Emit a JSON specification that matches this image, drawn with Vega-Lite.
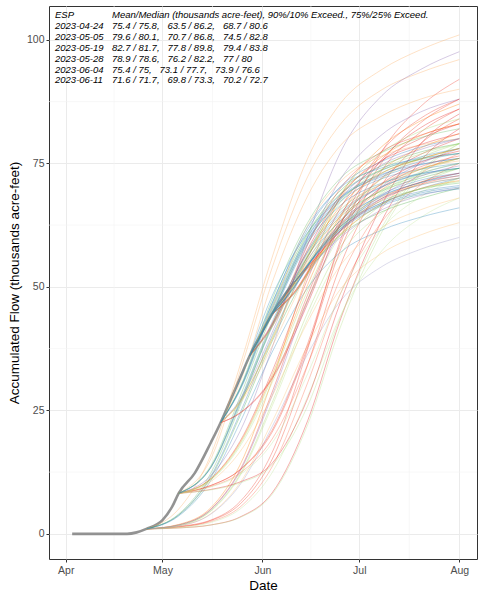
{
"$schema": "https://vega.github.io/schema/vega-lite/v6.json",
"width": 428, "height": 553,
"autosize": "none",
"padding": {"left": 49, "top": 6, "right": 1, "bottom": 33},
"config": {
  "font": "Liberation Sans",
  "view": {"stroke": "#333333", "strokeWidth": 1},
  "axis": {"domain": false, "tickColor": "#333333", "tickSize": 3, "labelColor": "#4d4d4d", "labelFontSize": 10.5, "titleFontWeight": "normal", "titleFontSize": 13.5, "titleColor": "#000000", "gridColor": "#ebebeb", "gridWidth": 1, "labelPadding": 2}
},
"datasets": {
 "mx": [{"d":"2023-04-16"},{"d":"2023-05-16T12:00:00Z"},{"d":"2023-06-16"},{"d":"2023-07-16T12:00:00Z"}],
 "my": [{"v":12.5},{"v":37.5},{"v":62.5},{"v":87.5}],
 "notes": [
  {"r":0,"lab":"ESP","txt":"Mean/Median (thousands acre-feet), 90%/10% Exceed., 75%/25% Exceed."},
  {"r":1,"lab":"2023-04-24","txt":"75.4 / 75.8,\u00a0\u00a0 63.5 / 86.2,\u00a0\u00a0 68.7 / 80.6"},
  {"r":2,"lab":"2023-05-05","txt":"79.6 / 80.1,\u00a0\u00a0 70.7 / 86.8,\u00a0\u00a0 74.5 / 82.8"},
  {"r":3,"lab":"2023-05-19","txt":"82.7 / 81.7,\u00a0\u00a0 77.8 / 89.8,\u00a0\u00a0 79.4 / 83.8"},
  {"r":4,"lab":"2023-05-28","txt":"78.9 / 78.6,\u00a0\u00a0 76.2 / 82.2,\u00a0\u00a0 77 / 80"},
  {"r":5,"lab":"2023-06-04","txt":"75.4 / 75,\u00a0\u00a0 73.1 / 77.7,\u00a0\u00a0 73.9 / 76.6"},
  {"r":6,"lab":"2023-06-11","txt":"71.6 / 71.7,\u00a0\u00a0 69.8 / 73.3,\u00a0\u00a0 70.2 / 72.7"}
 ],
 "obs": [
  {"d":"2023-04-03","v":0},{"d":"2023-04-10","v":0},{"d":"2023-04-20","v":0},{"d":"2023-04-23","v":0.3},{"d":"2023-04-26","v":1},{"d":"2023-05-01","v":2.8},{"d":"2023-05-04","v":5.5},{"d":"2023-05-06","v":8.2},{"d":"2023-05-11","v":12.3},{"d":"2023-05-16","v":18.5},{"d":"2023-05-19","v":22.5},{"d":"2023-05-22","v":27},{"d":"2023-05-25","v":31.5},{"d":"2023-05-28","v":36},{"d":"2023-06-01","v":41},{"d":"2023-06-04","v":44.5},{"d":"2023-06-08","v":48.5},{"d":"2023-06-11","v":51}
 ],
 "tr": [
  {"f":"2023-04-24","yr":"1993","d":"2023-04-26","v":1},{"f":"2023-04-24","yr":"1993","d":"2023-05-06","v":1.2},{"f":"2023-04-24","yr":"1993","d":"2023-05-16","v":1.8},{"f":"2023-04-24","yr":"1993","d":"2023-05-25","v":3.4},{"f":"2023-04-24","yr":"1993","d":"2023-06-04","v":8.3},{"f":"2023-04-24","yr":"1993","d":"2023-06-15","v":22.9},{"f":"2023-04-24","yr":"1993","d":"2023-06-25","v":43.1},{"f":"2023-04-24","yr":"1993","d":"2023-07-08","v":63.4},{"f":"2023-04-24","yr":"1993","d":"2023-07-20","v":75.5},{"f":"2023-04-24","yr":"1993","d":"2023-08-01","v":82},
  {"f":"2023-04-24","yr":"1995","d":"2023-04-26","v":1},{"f":"2023-04-24","yr":"1995","d":"2023-05-06","v":1.5},{"f":"2023-04-24","yr":"1995","d":"2023-05-16","v":2.8},{"f":"2023-04-24","yr":"1995","d":"2023-05-25","v":6.5},{"f":"2023-04-24","yr":"1995","d":"2023-06-04","v":16.5},{"f":"2023-04-24","yr":"1995","d":"2023-06-15","v":37.4},{"f":"2023-04-24","yr":"1995","d":"2023-06-25","v":59.2},{"f":"2023-04-24","yr":"1995","d":"2023-07-08","v":77.4},{"f":"2023-04-24","yr":"1995","d":"2023-07-20","v":86.5},{"f":"2023-04-24","yr":"1995","d":"2023-08-01","v":92},
  {"f":"2023-04-24","yr":"1997","d":"2023-04-26","v":1},{"f":"2023-04-24","yr":"1997","d":"2023-05-06","v":1.4},{"f":"2023-04-24","yr":"1997","d":"2023-05-16","v":2.5},{"f":"2023-04-24","yr":"1997","d":"2023-05-25","v":5.4},{"f":"2023-04-24","yr":"1997","d":"2023-06-04","v":13.6},{"f":"2023-04-24","yr":"1997","d":"2023-06-15","v":30.6},{"f":"2023-04-24","yr":"1997","d":"2023-06-25","v":48.4},{"f":"2023-04-24","yr":"1997","d":"2023-07-08","v":63.2},{"f":"2023-04-24","yr":"1997","d":"2023-07-20","v":70.6},{"f":"2023-04-24","yr":"1997","d":"2023-08-01","v":75},
  {"f":"2023-04-24","yr":"1990","d":"2023-04-26","v":1},{"f":"2023-04-24","yr":"1990","d":"2023-05-06","v":1.4},{"f":"2023-04-24","yr":"1990","d":"2023-05-16","v":2.7},{"f":"2023-04-24","yr":"1990","d":"2023-05-25","v":6},{"f":"2023-04-24","yr":"1990","d":"2023-06-04","v":15.1},{"f":"2023-04-24","yr":"1990","d":"2023-06-15","v":34.2},{"f":"2023-04-24","yr":"1990","d":"2023-06-25","v":54.1},{"f":"2023-04-24","yr":"1990","d":"2023-07-08","v":70.7},{"f":"2023-04-24","yr":"1990","d":"2023-07-20","v":79},{"f":"2023-04-24","yr":"1990","d":"2023-08-01","v":84},
  {"f":"2023-04-24","yr":"1996","d":"2023-04-26","v":1},{"f":"2023-04-24","yr":"1996","d":"2023-05-06","v":1.8},{"f":"2023-04-24","yr":"1996","d":"2023-05-16","v":5},{"f":"2023-04-24","yr":"1996","d":"2023-05-25","v":12.9},{"f":"2023-04-24","yr":"1996","d":"2023-06-04","v":28.7},{"f":"2023-04-24","yr":"1996","d":"2023-06-15","v":48.4},{"f":"2023-04-24","yr":"1996","d":"2023-06-25","v":62.6},{"f":"2023-04-24","yr":"1996","d":"2023-07-08","v":72.1},{"f":"2023-04-24","yr":"1996","d":"2023-07-20","v":76.8},{"f":"2023-04-24","yr":"1996","d":"2023-08-01","v":80},
  {"f":"2023-04-24","yr":"1999","d":"2023-04-26","v":1},{"f":"2023-04-24","yr":"1999","d":"2023-05-06","v":5},{"f":"2023-04-24","yr":"1999","d":"2023-05-16","v":16},{"f":"2023-04-24","yr":"1999","d":"2023-05-25","v":34},{"f":"2023-04-24","yr":"1999","d":"2023-06-04","v":56},{"f":"2023-04-24","yr":"1999","d":"2023-06-15","v":76},{"f":"2023-04-24","yr":"1999","d":"2023-06-25","v":87},{"f":"2023-04-24","yr":"1999","d":"2023-07-08","v":94},{"f":"2023-04-24","yr":"1999","d":"2023-07-20","v":98},{"f":"2023-04-24","yr":"1999","d":"2023-08-01","v":101},
  {"f":"2023-04-24","yr":"2001","d":"2023-04-26","v":1},{"f":"2023-04-24","yr":"2001","d":"2023-05-06","v":1.6},{"f":"2023-04-24","yr":"2001","d":"2023-05-16","v":4.1},{"f":"2023-04-24","yr":"2001","d":"2023-05-25","v":10.3},{"f":"2023-04-24","yr":"2001","d":"2023-06-04","v":22.7},{"f":"2023-04-24","yr":"2001","d":"2023-06-15","v":38.2},{"f":"2023-04-24","yr":"2001","d":"2023-06-25","v":49.4},{"f":"2023-04-24","yr":"2001","d":"2023-07-08","v":56.8},{"f":"2023-04-24","yr":"2001","d":"2023-07-20","v":60.5},{"f":"2023-04-24","yr":"2001","d":"2023-08-01","v":63},
  {"f":"2023-04-24","yr":"2003","d":"2023-04-26","v":1},{"f":"2023-04-24","yr":"2003","d":"2023-05-06","v":1.9},{"f":"2023-04-24","yr":"2003","d":"2023-05-16","v":5.3},{"f":"2023-04-24","yr":"2003","d":"2023-05-25","v":13.9},{"f":"2023-04-24","yr":"2003","d":"2023-06-04","v":31.1},{"f":"2023-04-24","yr":"2003","d":"2023-06-15","v":52.6},{"f":"2023-04-24","yr":"2003","d":"2023-06-25","v":68.1},{"f":"2023-04-24","yr":"2003","d":"2023-07-08","v":78.4},{"f":"2023-04-24","yr":"2003","d":"2023-07-20","v":83.6},{"f":"2023-04-24","yr":"2003","d":"2023-08-01","v":87},
  {"f":"2023-04-24","yr":"2020","d":"2023-04-26","v":1},{"f":"2023-04-24","yr":"2020","d":"2023-05-06","v":1.2},{"f":"2023-04-24","yr":"2020","d":"2023-05-16","v":1.8},{"f":"2023-04-24","yr":"2020","d":"2023-05-25","v":3.3},{"f":"2023-04-24","yr":"2020","d":"2023-06-04","v":8},{"f":"2023-04-24","yr":"2020","d":"2023-06-15","v":22.1},{"f":"2023-04-24","yr":"2020","d":"2023-06-25","v":41.6},{"f":"2023-04-24","yr":"2020","d":"2023-07-08","v":61.1},{"f":"2023-04-24","yr":"2020","d":"2023-07-20","v":72.8},{"f":"2023-04-24","yr":"2020","d":"2023-08-01","v":79},
  {"f":"2023-04-24","yr":"1994","d":"2023-04-26","v":1},{"f":"2023-04-24","yr":"1994","d":"2023-05-06","v":1.3},{"f":"2023-04-24","yr":"1994","d":"2023-05-16","v":2.3},{"f":"2023-04-24","yr":"1994","d":"2023-05-25","v":5},{"f":"2023-04-24","yr":"1994","d":"2023-06-04","v":12.4},{"f":"2023-04-24","yr":"1994","d":"2023-06-15","v":27.8},{"f":"2023-04-24","yr":"1994","d":"2023-06-25","v":43.9},{"f":"2023-04-24","yr":"1994","d":"2023-07-08","v":57.3},{"f":"2023-04-24","yr":"1994","d":"2023-07-20","v":64},{"f":"2023-04-24","yr":"1994","d":"2023-08-01","v":68},
  {"f":"2023-04-24","yr":"1992","d":"2023-04-26","v":1},{"f":"2023-04-24","yr":"1992","d":"2023-05-06","v":1.7},{"f":"2023-04-24","yr":"1992","d":"2023-05-16","v":4.6},{"f":"2023-04-24","yr":"1992","d":"2023-05-25","v":11.7},{"f":"2023-04-24","yr":"1992","d":"2023-06-04","v":25.9},{"f":"2023-04-24","yr":"1992","d":"2023-06-15","v":43.6},{"f":"2023-04-24","yr":"1992","d":"2023-06-25","v":56.4},{"f":"2023-04-24","yr":"1992","d":"2023-07-08","v":64.9},{"f":"2023-04-24","yr":"1992","d":"2023-07-20","v":69.2},{"f":"2023-04-24","yr":"1992","d":"2023-08-01","v":72},
  {"f":"2023-04-24","yr":"2005","d":"2023-04-26","v":1},{"f":"2023-04-24","yr":"2005","d":"2023-05-06","v":4},{"f":"2023-04-24","yr":"2005","d":"2023-05-16","v":12.3},{"f":"2023-04-24","yr":"2005","d":"2023-05-25","v":25.8},{"f":"2023-04-24","yr":"2005","d":"2023-06-04","v":42.3},{"f":"2023-04-24","yr":"2005","d":"2023-06-15","v":57.3},{"f":"2023-04-24","yr":"2005","d":"2023-06-25","v":65.5},{"f":"2023-04-24","yr":"2005","d":"2023-07-08","v":70.8},{"f":"2023-04-24","yr":"2005","d":"2023-07-20","v":73.8},{"f":"2023-04-24","yr":"2005","d":"2023-08-01","v":76},
  {"f":"2023-04-24","yr":"2008","d":"2023-04-26","v":1},{"f":"2023-04-24","yr":"2008","d":"2023-05-06","v":3.8},{"f":"2023-04-24","yr":"2008","d":"2023-05-16","v":11.4},{"f":"2023-04-24","yr":"2008","d":"2023-05-25","v":23.8},{"f":"2023-04-24","yr":"2008","d":"2023-06-04","v":39},{"f":"2023-04-24","yr":"2008","d":"2023-06-15","v":52.8},{"f":"2023-04-24","yr":"2008","d":"2023-06-25","v":60.3},{"f":"2023-04-24","yr":"2008","d":"2023-07-08","v":65.2},{"f":"2023-04-24","yr":"2008","d":"2023-07-20","v":67.9},{"f":"2023-04-24","yr":"2008","d":"2023-08-01","v":70},
  {"f":"2023-04-24","yr":"2010","d":"2023-04-26","v":1},{"f":"2023-04-24","yr":"2010","d":"2023-05-06","v":1.7},{"f":"2023-04-24","yr":"2010","d":"2023-05-16","v":4.7},{"f":"2023-04-24","yr":"2010","d":"2023-05-25","v":12},{"f":"2023-04-24","yr":"2010","d":"2023-06-04","v":26.6},{"f":"2023-04-24","yr":"2010","d":"2023-06-15","v":44.8},{"f":"2023-04-24","yr":"2010","d":"2023-06-25","v":57.9},{"f":"2023-04-24","yr":"2010","d":"2023-07-08","v":66.7},{"f":"2023-04-24","yr":"2010","d":"2023-07-20","v":71.1},{"f":"2023-04-24","yr":"2010","d":"2023-08-01","v":74},
  {"f":"2023-04-24","yr":"2016","d":"2023-04-26","v":1},{"f":"2023-04-24","yr":"2016","d":"2023-05-06","v":1.8},{"f":"2023-04-24","yr":"2016","d":"2023-05-16","v":4.9},{"f":"2023-04-24","yr":"2016","d":"2023-05-25","v":12.6},{"f":"2023-04-24","yr":"2016","d":"2023-06-04","v":28},{"f":"2023-04-24","yr":"2016","d":"2023-06-15","v":47.2},{"f":"2023-04-24","yr":"2016","d":"2023-06-25","v":61.1},{"f":"2023-04-24","yr":"2016","d":"2023-07-08","v":70.3},{"f":"2023-04-24","yr":"2016","d":"2023-07-20","v":74.9},{"f":"2023-04-24","yr":"2016","d":"2023-08-01","v":78},
  {"f":"2023-04-24","yr":"2018","d":"2023-04-26","v":1},{"f":"2023-04-24","yr":"2018","d":"2023-05-06","v":1.6},{"f":"2023-04-24","yr":"2018","d":"2023-05-16","v":4},{"f":"2023-04-24","yr":"2018","d":"2023-05-25","v":9.9},{"f":"2023-04-24","yr":"2018","d":"2023-06-04","v":21.7},{"f":"2023-04-24","yr":"2018","d":"2023-06-15","v":36.4},{"f":"2023-04-24","yr":"2018","d":"2023-06-25","v":47},{"f":"2023-04-24","yr":"2018","d":"2023-07-08","v":54.1},{"f":"2023-04-24","yr":"2018","d":"2023-07-20","v":57.6},{"f":"2023-04-24","yr":"2018","d":"2023-08-01","v":60},
  {"f":"2023-04-24","yr":"2012","d":"2023-04-26","v":1},{"f":"2023-04-24","yr":"2012","d":"2023-05-06","v":3.6},{"f":"2023-04-24","yr":"2012","d":"2023-05-16","v":10.8},{"f":"2023-04-24","yr":"2012","d":"2023-05-25","v":22.5},{"f":"2023-04-24","yr":"2012","d":"2023-06-04","v":36.8},{"f":"2023-04-24","yr":"2012","d":"2023-06-15","v":49.8},{"f":"2023-04-24","yr":"2012","d":"2023-06-25","v":56.9},{"f":"2023-04-24","yr":"2012","d":"2023-07-08","v":61.5},{"f":"2023-04-24","yr":"2012","d":"2023-07-20","v":64.1},{"f":"2023-04-24","yr":"2012","d":"2023-08-01","v":66},
  {"f":"2023-04-24","yr":"2014","d":"2023-04-26","v":1},{"f":"2023-04-24","yr":"2014","d":"2023-05-06","v":3.8},{"f":"2023-04-24","yr":"2014","d":"2023-05-16","v":11.7},{"f":"2023-04-24","yr":"2014","d":"2023-05-25","v":24.4},{"f":"2023-04-24","yr":"2014","d":"2023-06-04","v":40.1},{"f":"2023-04-24","yr":"2014","d":"2023-06-15","v":54.3},{"f":"2023-04-24","yr":"2014","d":"2023-06-25","v":62.1},{"f":"2023-04-24","yr":"2014","d":"2023-07-08","v":67},{"f":"2023-04-24","yr":"2014","d":"2023-07-20","v":69.9},{"f":"2023-04-24","yr":"2014","d":"2023-08-01","v":72},

  {"f":"2023-05-05","yr":"1993","d":"2023-05-06","v":8.2},{"f":"2023-05-05","yr":"1993","d":"2023-05-16","v":9},{"f":"2023-05-05","yr":"1993","d":"2023-05-25","v":10.5},{"f":"2023-05-05","yr":"1993","d":"2023-06-04","v":14.3},{"f":"2023-05-05","yr":"1993","d":"2023-06-15","v":27.4},{"f":"2023-05-05","yr":"1993","d":"2023-06-25","v":46.6},{"f":"2023-05-05","yr":"1993","d":"2023-07-08","v":66.6},{"f":"2023-05-05","yr":"1993","d":"2023-07-20","v":78.9},{"f":"2023-05-05","yr":"1993","d":"2023-08-01","v":85},
  {"f":"2023-05-05","yr":"1995","d":"2023-05-06","v":8.2},{"f":"2023-05-05","yr":"1995","d":"2023-05-16","v":9.8},{"f":"2023-05-05","yr":"1995","d":"2023-05-25","v":13},{"f":"2023-05-05","yr":"1995","d":"2023-06-04","v":21},{"f":"2023-05-05","yr":"1995","d":"2023-06-15","v":38.5},{"f":"2023-05-05","yr":"1995","d":"2023-06-25","v":58.5},{"f":"2023-05-05","yr":"1995","d":"2023-07-08","v":75.2},{"f":"2023-05-05","yr":"1995","d":"2023-07-20","v":83.2},{"f":"2023-05-05","yr":"1995","d":"2023-08-01","v":88},
  {"f":"2023-05-05","yr":"1997","d":"2023-05-06","v":8.2},{"f":"2023-05-05","yr":"1997","d":"2023-05-16","v":9.6},{"f":"2023-05-05","yr":"1997","d":"2023-05-25","v":12.3},{"f":"2023-05-05","yr":"1997","d":"2023-06-04","v":19.2},{"f":"2023-05-05","yr":"1997","d":"2023-06-15","v":34.3},{"f":"2023-05-05","yr":"1997","d":"2023-06-25","v":51.5},{"f":"2023-05-05","yr":"1997","d":"2023-07-08","v":66},{"f":"2023-05-05","yr":"1997","d":"2023-07-20","v":72.9},{"f":"2023-05-05","yr":"1997","d":"2023-08-01","v":77},
  {"f":"2023-05-05","yr":"1990","d":"2023-05-06","v":8.2},{"f":"2023-05-05","yr":"1990","d":"2023-05-16","v":9.8},{"f":"2023-05-05","yr":"1990","d":"2023-05-25","v":12.9},{"f":"2023-05-05","yr":"1990","d":"2023-06-04","v":20.6},{"f":"2023-05-05","yr":"1990","d":"2023-06-15","v":37.8},{"f":"2023-05-05","yr":"1990","d":"2023-06-25","v":57.2},{"f":"2023-05-05","yr":"1990","d":"2023-07-08","v":73.6},{"f":"2023-05-05","yr":"1990","d":"2023-07-20","v":81.3},{"f":"2023-05-05","yr":"1990","d":"2023-08-01","v":86},
  {"f":"2023-05-05","yr":"1996","d":"2023-05-06","v":8.2},{"f":"2023-05-05","yr":"1996","d":"2023-05-16","v":11.2},{"f":"2023-05-05","yr":"1996","d":"2023-05-25","v":18.7},{"f":"2023-05-05","yr":"1996","d":"2023-06-04","v":32.9},{"f":"2023-05-05","yr":"1996","d":"2023-06-15","v":51.6},{"f":"2023-05-05","yr":"1996","d":"2023-06-25","v":65.8},{"f":"2023-05-05","yr":"1996","d":"2023-07-08","v":75.5},{"f":"2023-05-05","yr":"1996","d":"2023-07-20","v":80},{"f":"2023-05-05","yr":"1996","d":"2023-08-01","v":83},
  {"f":"2023-05-05","yr":"1999","d":"2023-05-06","v":8.2},{"f":"2023-05-05","yr":"1999","d":"2023-05-16","v":15.2},{"f":"2023-05-05","yr":"1999","d":"2023-05-25","v":32.8},{"f":"2023-05-05","yr":"1999","d":"2023-06-04","v":53.9},{"f":"2023-05-05","yr":"1999","d":"2023-06-15","v":72.3},{"f":"2023-05-05","yr":"1999","d":"2023-06-25","v":82.8},{"f":"2023-05-05","yr":"1999","d":"2023-07-08","v":89.9},{"f":"2023-05-05","yr":"1999","d":"2023-07-20","v":93.4},{"f":"2023-05-05","yr":"1999","d":"2023-08-01","v":96},
  {"f":"2023-05-05","yr":"2001","d":"2023-05-06","v":8.2},{"f":"2023-05-05","yr":"2001","d":"2023-05-16","v":10.6},{"f":"2023-05-05","yr":"2001","d":"2023-05-25","v":16.6},{"f":"2023-05-05","yr":"2001","d":"2023-06-04","v":27.9},{"f":"2023-05-05","yr":"2001","d":"2023-06-15","v":42.9},{"f":"2023-05-05","yr":"2001","d":"2023-06-25","v":54.2},{"f":"2023-05-05","yr":"2001","d":"2023-07-08","v":62},{"f":"2023-05-05","yr":"2001","d":"2023-07-20","v":65.6},{"f":"2023-05-05","yr":"2001","d":"2023-08-01","v":68},
  {"f":"2023-05-05","yr":"2003","d":"2023-05-06","v":8.2},{"f":"2023-05-05","yr":"2003","d":"2023-05-16","v":11.1},{"f":"2023-05-05","yr":"2003","d":"2023-05-25","v":18.4},{"f":"2023-05-05","yr":"2003","d":"2023-06-04","v":32.2},{"f":"2023-05-05","yr":"2003","d":"2023-06-15","v":50.4},{"f":"2023-05-05","yr":"2003","d":"2023-06-25","v":64.3},{"f":"2023-05-05","yr":"2003","d":"2023-07-08","v":73.7},{"f":"2023-05-05","yr":"2003","d":"2023-07-20","v":78.1},{"f":"2023-05-05","yr":"2003","d":"2023-08-01","v":81},
  {"f":"2023-05-05","yr":"2020","d":"2023-05-06","v":8.2},{"f":"2023-05-05","yr":"2020","d":"2023-05-16","v":8.9},{"f":"2023-05-05","yr":"2020","d":"2023-05-25","v":10.3},{"f":"2023-05-05","yr":"2020","d":"2023-06-04","v":13.9},{"f":"2023-05-05","yr":"2020","d":"2023-06-15","v":25.9},{"f":"2023-05-05","yr":"2020","d":"2023-06-25","v":43.6},{"f":"2023-05-05","yr":"2020","d":"2023-07-08","v":62},{"f":"2023-05-05","yr":"2020","d":"2023-07-20","v":73.3},{"f":"2023-05-05","yr":"2020","d":"2023-08-01","v":79},
  {"f":"2023-05-05","yr":"1994","d":"2023-05-06","v":8.2},{"f":"2023-05-05","yr":"1994","d":"2023-05-16","v":9.5},{"f":"2023-05-05","yr":"1994","d":"2023-05-25","v":12},{"f":"2023-05-05","yr":"1994","d":"2023-06-04","v":18.4},{"f":"2023-05-05","yr":"1994","d":"2023-06-15","v":32.4},{"f":"2023-05-05","yr":"1994","d":"2023-06-25","v":48.4},{"f":"2023-05-05","yr":"1994","d":"2023-07-08","v":61.8},{"f":"2023-05-05","yr":"1994","d":"2023-07-20","v":68.2},{"f":"2023-05-05","yr":"1994","d":"2023-08-01","v":72},
  {"f":"2023-05-05","yr":"1992","d":"2023-05-06","v":8.2},{"f":"2023-05-05","yr":"1992","d":"2023-05-16","v":10.9},{"f":"2023-05-05","yr":"1992","d":"2023-05-25","v":17.7},{"f":"2023-05-05","yr":"1992","d":"2023-06-04","v":30.6},{"f":"2023-05-05","yr":"1992","d":"2023-06-15","v":47.5},{"f":"2023-05-05","yr":"1992","d":"2023-06-25","v":60.4},{"f":"2023-05-05","yr":"1992","d":"2023-07-08","v":69.2},{"f":"2023-05-05","yr":"1992","d":"2023-07-20","v":73.3},{"f":"2023-05-05","yr":"1992","d":"2023-08-01","v":76},
  {"f":"2023-05-05","yr":"2005","d":"2023-05-06","v":8.2},{"f":"2023-05-05","yr":"2005","d":"2023-05-16","v":13.8},{"f":"2023-05-05","yr":"2005","d":"2023-05-25","v":27.7},{"f":"2023-05-05","yr":"2005","d":"2023-06-04","v":44.5},{"f":"2023-05-05","yr":"2005","d":"2023-06-15","v":59.2},{"f":"2023-05-05","yr":"2005","d":"2023-06-25","v":67.5},{"f":"2023-05-05","yr":"2005","d":"2023-07-08","v":73.1},{"f":"2023-05-05","yr":"2005","d":"2023-07-20","v":75.9},{"f":"2023-05-05","yr":"2005","d":"2023-08-01","v":78},
  {"f":"2023-05-05","yr":"2008","d":"2023-05-06","v":8.2},{"f":"2023-05-05","yr":"2008","d":"2023-05-16","v":13.5},{"f":"2023-05-05","yr":"2008","d":"2023-05-25","v":26.6},{"f":"2023-05-05","yr":"2008","d":"2023-06-04","v":42.4},{"f":"2023-05-05","yr":"2008","d":"2023-06-15","v":56.2},{"f":"2023-05-05","yr":"2008","d":"2023-06-25","v":64.1},{"f":"2023-05-05","yr":"2008","d":"2023-07-08","v":69.4},{"f":"2023-05-05","yr":"2008","d":"2023-07-20","v":72},{"f":"2023-05-05","yr":"2008","d":"2023-08-01","v":74},
  {"f":"2023-05-05","yr":"2010","d":"2023-05-06","v":8.2},{"f":"2023-05-05","yr":"2010","d":"2023-05-16","v":11},{"f":"2023-05-05","yr":"2010","d":"2023-05-25","v":18.1},{"f":"2023-05-05","yr":"2010","d":"2023-06-04","v":31.6},{"f":"2023-05-05","yr":"2010","d":"2023-06-15","v":49.3},{"f":"2023-05-05","yr":"2010","d":"2023-06-25","v":62.7},{"f":"2023-05-05","yr":"2010","d":"2023-07-08","v":71.9},{"f":"2023-05-05","yr":"2010","d":"2023-07-20","v":76.2},{"f":"2023-05-05","yr":"2010","d":"2023-08-01","v":79},
  {"f":"2023-05-05","yr":"2016","d":"2023-05-06","v":8.2},{"f":"2023-05-05","yr":"2016","d":"2023-05-16","v":11.8},{"f":"2023-05-05","yr":"2016","d":"2023-05-25","v":20.7},{"f":"2023-05-05","yr":"2016","d":"2023-06-04","v":37.7},{"f":"2023-05-05","yr":"2016","d":"2023-06-15","v":60.1},{"f":"2023-05-05","yr":"2016","d":"2023-06-25","v":77},{"f":"2023-05-05","yr":"2016","d":"2023-07-08","v":88.7},{"f":"2023-05-05","yr":"2016","d":"2023-07-20","v":94},{"f":"2023-05-05","yr":"2016","d":"2023-08-01","v":97.6},
  {"f":"2023-05-05","yr":"2014","d":"2023-05-06","v":8.2},{"f":"2023-05-05","yr":"2014","d":"2023-05-16","v":13.5},{"f":"2023-05-05","yr":"2014","d":"2023-05-25","v":26.9},{"f":"2023-05-05","yr":"2014","d":"2023-06-04","v":42.9},{"f":"2023-05-05","yr":"2014","d":"2023-06-15","v":57},{"f":"2023-05-05","yr":"2014","d":"2023-06-25","v":65},{"f":"2023-05-05","yr":"2014","d":"2023-07-08","v":70.3},{"f":"2023-05-05","yr":"2014","d":"2023-07-20","v":73},{"f":"2023-05-05","yr":"2014","d":"2023-08-01","v":75},
  {"f":"2023-05-05","yr":"2011","d":"2023-05-06","v":8.2},{"f":"2023-05-05","yr":"2011","d":"2023-05-16","v":13.4},{"f":"2023-05-05","yr":"2011","d":"2023-05-25","v":26.3},{"f":"2023-05-05","yr":"2011","d":"2023-06-04","v":41.9},{"f":"2023-05-05","yr":"2011","d":"2023-06-15","v":55.5},{"f":"2023-05-05","yr":"2011","d":"2023-06-25","v":63.3},{"f":"2023-05-05","yr":"2011","d":"2023-07-08","v":68.5},{"f":"2023-05-05","yr":"2011","d":"2023-07-20","v":71.1},{"f":"2023-05-05","yr":"2011","d":"2023-08-01","v":73},

  {"f":"2023-05-19","yr":"1993","d":"2023-05-19","v":22.5},{"f":"2023-05-19","yr":"1993","d":"2023-05-25","v":24.4},{"f":"2023-05-19","yr":"1993","d":"2023-06-04","v":31.4},{"f":"2023-05-19","yr":"1993","d":"2023-06-15","v":46.6},{"f":"2023-05-19","yr":"1993","d":"2023-06-25","v":62.5},{"f":"2023-05-19","yr":"1993","d":"2023-07-08","v":75.8},{"f":"2023-05-19","yr":"1993","d":"2023-07-20","v":82.2},{"f":"2023-05-19","yr":"1993","d":"2023-08-01","v":86},
  {"f":"2023-05-19","yr":"1995","d":"2023-05-19","v":22.5},{"f":"2023-05-19","yr":"1995","d":"2023-05-25","v":24.5},{"f":"2023-05-19","yr":"1995","d":"2023-06-04","v":31.7},{"f":"2023-05-19","yr":"1995","d":"2023-06-15","v":47.4},{"f":"2023-05-19","yr":"1995","d":"2023-06-25","v":63.8},{"f":"2023-05-19","yr":"1995","d":"2023-07-08","v":77.5},{"f":"2023-05-19","yr":"1995","d":"2023-07-20","v":84.1},{"f":"2023-05-19","yr":"1995","d":"2023-08-01","v":88},
  {"f":"2023-05-19","yr":"1999","d":"2023-05-19","v":22.5},{"f":"2023-05-19","yr":"1999","d":"2023-05-25","v":30.6},{"f":"2023-05-19","yr":"1999","d":"2023-06-04","v":50.9},{"f":"2023-05-19","yr":"1999","d":"2023-06-15","v":68.4},{"f":"2023-05-19","yr":"1999","d":"2023-06-25","v":78.5},{"f":"2023-05-19","yr":"1999","d":"2023-07-08","v":84.6},{"f":"2023-05-19","yr":"1999","d":"2023-07-20","v":88},{"f":"2023-05-19","yr":"1999","d":"2023-08-01","v":90},
  {"f":"2023-05-19","yr":"2001","d":"2023-05-19","v":22.5},{"f":"2023-05-19","yr":"2001","d":"2023-05-25","v":26.4},{"f":"2023-05-19","yr":"2001","d":"2023-06-04","v":38},{"f":"2023-05-19","yr":"2001","d":"2023-06-15","v":53},{"f":"2023-05-19","yr":"2001","d":"2023-06-25","v":64.1},{"f":"2023-05-19","yr":"2001","d":"2023-07-08","v":71.9},{"f":"2023-05-19","yr":"2001","d":"2023-07-20","v":75.8},{"f":"2023-05-19","yr":"2001","d":"2023-08-01","v":78},
  {"f":"2023-05-19","yr":"2003","d":"2023-05-19","v":22.5},{"f":"2023-05-19","yr":"2003","d":"2023-05-25","v":26.7},{"f":"2023-05-19","yr":"2003","d":"2023-06-04","v":39.4},{"f":"2023-05-19","yr":"2003","d":"2023-06-15","v":55.8},{"f":"2023-05-19","yr":"2003","d":"2023-06-25","v":67.9},{"f":"2023-05-19","yr":"2003","d":"2023-07-08","v":76.3},{"f":"2023-05-19","yr":"2003","d":"2023-07-20","v":80.6},{"f":"2023-05-19","yr":"2003","d":"2023-08-01","v":83},
  {"f":"2023-05-19","yr":"2005","d":"2023-05-19","v":22.5},{"f":"2023-05-19","yr":"2005","d":"2023-05-25","v":29.6},{"f":"2023-05-19","yr":"2005","d":"2023-06-04","v":47.5},{"f":"2023-05-19","yr":"2005","d":"2023-06-15","v":63},{"f":"2023-05-19","yr":"2005","d":"2023-06-25","v":71.9},{"f":"2023-05-19","yr":"2005","d":"2023-07-08","v":77.2},{"f":"2023-05-19","yr":"2005","d":"2023-07-20","v":80.2},{"f":"2023-05-19","yr":"2005","d":"2023-08-01","v":82},
  {"f":"2023-05-19","yr":"2008","d":"2023-05-19","v":22.5},{"f":"2023-05-19","yr":"2008","d":"2023-05-25","v":29.3},{"f":"2023-05-19","yr":"2008","d":"2023-06-04","v":46.2},{"f":"2023-05-19","yr":"2008","d":"2023-06-15","v":60.9},{"f":"2023-05-19","yr":"2008","d":"2023-06-25","v":69.4},{"f":"2023-05-19","yr":"2008","d":"2023-07-08","v":74.5},{"f":"2023-05-19","yr":"2008","d":"2023-07-20","v":77.3},{"f":"2023-05-19","yr":"2008","d":"2023-08-01","v":79},
  {"f":"2023-05-19","yr":"2010","d":"2023-05-19","v":22.5},{"f":"2023-05-19","yr":"2010","d":"2023-05-25","v":26.8},{"f":"2023-05-19","yr":"2010","d":"2023-06-04","v":39.7},{"f":"2023-05-19","yr":"2010","d":"2023-06-15","v":56.3},{"f":"2023-05-19","yr":"2010","d":"2023-06-25","v":68.6},{"f":"2023-05-19","yr":"2010","d":"2023-07-08","v":77.2},{"f":"2023-05-19","yr":"2010","d":"2023-07-20","v":81.5},{"f":"2023-05-19","yr":"2010","d":"2023-08-01","v":84},
  {"f":"2023-05-19","yr":"2016","d":"2023-05-19","v":22.5},{"f":"2023-05-19","yr":"2016","d":"2023-05-25","v":27.1},{"f":"2023-05-19","yr":"2016","d":"2023-06-04","v":40.8},{"f":"2023-05-19","yr":"2016","d":"2023-06-15","v":58.5},{"f":"2023-05-19","yr":"2016","d":"2023-06-25","v":71.6},{"f":"2023-05-19","yr":"2016","d":"2023-07-08","v":80.8},{"f":"2023-05-19","yr":"2016","d":"2023-07-20","v":85.4},{"f":"2023-05-19","yr":"2016","d":"2023-08-01","v":88},
  {"f":"2023-05-19","yr":"2012","d":"2023-05-19","v":22.5},{"f":"2023-05-19","yr":"2012","d":"2023-05-25","v":29.2},{"f":"2023-05-19","yr":"2012","d":"2023-06-04","v":45.8},{"f":"2023-05-19","yr":"2012","d":"2023-06-15","v":60.2},{"f":"2023-05-19","yr":"2012","d":"2023-06-25","v":68.6},{"f":"2023-05-19","yr":"2012","d":"2023-07-08","v":73.6},{"f":"2023-05-19","yr":"2012","d":"2023-07-20","v":76.3},{"f":"2023-05-19","yr":"2012","d":"2023-08-01","v":78},
  {"f":"2023-05-19","yr":"2014","d":"2023-05-19","v":22.5},{"f":"2023-05-19","yr":"2014","d":"2023-05-25","v":29.4},{"f":"2023-05-19","yr":"2014","d":"2023-06-04","v":46.7},{"f":"2023-05-19","yr":"2014","d":"2023-06-15","v":61.6},{"f":"2023-05-19","yr":"2014","d":"2023-06-25","v":70.2},{"f":"2023-05-19","yr":"2014","d":"2023-07-08","v":75.4},{"f":"2023-05-19","yr":"2014","d":"2023-07-20","v":78.3},{"f":"2023-05-19","yr":"2014","d":"2023-08-01","v":80},
  {"f":"2023-05-19","yr":"2011","d":"2023-05-19","v":22.5},{"f":"2023-05-19","yr":"2011","d":"2023-05-25","v":29},{"f":"2023-05-19","yr":"2011","d":"2023-06-04","v":45.4},{"f":"2023-05-19","yr":"2011","d":"2023-06-15","v":59.6},{"f":"2023-05-19","yr":"2011","d":"2023-06-25","v":67.7},{"f":"2023-05-19","yr":"2011","d":"2023-07-08","v":72.6},{"f":"2023-05-19","yr":"2011","d":"2023-07-20","v":75.4},{"f":"2023-05-19","yr":"2011","d":"2023-08-01","v":77},
  {"f":"2023-05-19","yr":"2013","d":"2023-05-19","v":22.5},{"f":"2023-05-19","yr":"2013","d":"2023-05-25","v":31.1},{"f":"2023-05-19","yr":"2013","d":"2023-06-04","v":48.2},{"f":"2023-05-19","yr":"2013","d":"2023-06-15","v":61},{"f":"2023-05-19","yr":"2013","d":"2023-06-25","v":68},{"f":"2023-05-19","yr":"2013","d":"2023-07-08","v":72.3},{"f":"2023-05-19","yr":"2013","d":"2023-07-20","v":74.7},{"f":"2023-05-19","yr":"2013","d":"2023-08-01","v":76},

  {"f":"2023-05-28","yr":"1993","d":"2023-05-28","v":36},{"f":"2023-05-28","yr":"1993","d":"2023-06-04","v":42.3},{"f":"2023-05-28","yr":"1993","d":"2023-06-15","v":57.6},{"f":"2023-05-28","yr":"1993","d":"2023-06-25","v":68.4},{"f":"2023-05-28","yr":"1993","d":"2023-07-08","v":75.6},{"f":"2023-05-28","yr":"1993","d":"2023-07-20","v":78.8},{"f":"2023-05-28","yr":"1993","d":"2023-08-01","v":81},
  {"f":"2023-05-28","yr":"1995","d":"2023-05-28","v":36},{"f":"2023-05-28","yr":"1995","d":"2023-06-04","v":42.6},{"f":"2023-05-28","yr":"1995","d":"2023-06-15","v":58.6},{"f":"2023-05-28","yr":"1995","d":"2023-06-25","v":69.8},{"f":"2023-05-28","yr":"1995","d":"2023-07-08","v":77.4},{"f":"2023-05-28","yr":"1995","d":"2023-07-20","v":80.7},{"f":"2023-05-28","yr":"1995","d":"2023-08-01","v":83},
  {"f":"2023-05-28","yr":"1999","d":"2023-05-28","v":36},{"f":"2023-05-28","yr":"1999","d":"2023-06-04","v":45.7},{"f":"2023-05-28","yr":"1999","d":"2023-06-15","v":62.4},{"f":"2023-05-28","yr":"1999","d":"2023-06-25","v":71.2},{"f":"2023-05-28","yr":"1999","d":"2023-07-08","v":76.5},{"f":"2023-05-28","yr":"1999","d":"2023-07-20","v":78.7},{"f":"2023-05-28","yr":"1999","d":"2023-08-01","v":80},
  {"f":"2023-05-28","yr":"2003","d":"2023-05-28","v":36},{"f":"2023-05-28","yr":"2003","d":"2023-06-04","v":41.9},{"f":"2023-05-28","yr":"2003","d":"2023-06-15","v":56.2},{"f":"2023-05-28","yr":"2003","d":"2023-06-25","v":66.2},{"f":"2023-05-28","yr":"2003","d":"2023-07-08","v":73},{"f":"2023-05-28","yr":"2003","d":"2023-07-20","v":75.9},{"f":"2023-05-28","yr":"2003","d":"2023-08-01","v":78},
  {"f":"2023-05-28","yr":"2005","d":"2023-05-28","v":36},{"f":"2023-05-28","yr":"2005","d":"2023-06-04","v":45},{"f":"2023-05-28","yr":"2005","d":"2023-06-15","v":60.6},{"f":"2023-05-28","yr":"2005","d":"2023-06-25","v":68.8},{"f":"2023-05-28","yr":"2005","d":"2023-07-08","v":73.7},{"f":"2023-05-28","yr":"2005","d":"2023-07-20","v":75.8},{"f":"2023-05-28","yr":"2005","d":"2023-08-01","v":77},
  {"f":"2023-05-28","yr":"2010","d":"2023-05-28","v":36},{"f":"2023-05-28","yr":"2010","d":"2023-06-04","v":42},{"f":"2023-05-28","yr":"2010","d":"2023-06-15","v":56.6},{"f":"2023-05-28","yr":"2010","d":"2023-06-25","v":67},{"f":"2023-05-28","yr":"2010","d":"2023-07-08","v":73.8},{"f":"2023-05-28","yr":"2010","d":"2023-07-20","v":76.9},{"f":"2023-05-28","yr":"2010","d":"2023-08-01","v":79},
  {"f":"2023-05-28","yr":"2016","d":"2023-05-28","v":36},{"f":"2023-05-28","yr":"2016","d":"2023-06-04","v":42.2},{"f":"2023-05-28","yr":"2016","d":"2023-06-15","v":57.1},{"f":"2023-05-28","yr":"2016","d":"2023-06-25","v":67.7},{"f":"2023-05-28","yr":"2016","d":"2023-07-08","v":74.7},{"f":"2023-05-28","yr":"2016","d":"2023-07-20","v":77.8},{"f":"2023-05-28","yr":"2016","d":"2023-08-01","v":80},
  {"f":"2023-05-28","yr":"2012","d":"2023-05-28","v":36},{"f":"2023-05-28","yr":"2012","d":"2023-06-04","v":44.6},{"f":"2023-05-28","yr":"2012","d":"2023-06-15","v":59.4},{"f":"2023-05-28","yr":"2012","d":"2023-06-25","v":67.2},{"f":"2023-05-28","yr":"2012","d":"2023-07-08","v":71.9},{"f":"2023-05-28","yr":"2012","d":"2023-07-20","v":73.8},{"f":"2023-05-28","yr":"2012","d":"2023-08-01","v":75},
  {"f":"2023-05-28","yr":"2014","d":"2023-05-28","v":36},{"f":"2023-05-28","yr":"2014","d":"2023-06-04","v":44.8},{"f":"2023-05-28","yr":"2014","d":"2023-06-15","v":60},{"f":"2023-05-28","yr":"2014","d":"2023-06-25","v":68},{"f":"2023-05-28","yr":"2014","d":"2023-07-08","v":72.8},{"f":"2023-05-28","yr":"2014","d":"2023-07-20","v":74.8},{"f":"2023-05-28","yr":"2014","d":"2023-08-01","v":76},
  {"f":"2023-05-28","yr":"2011","d":"2023-05-28","v":36},{"f":"2023-05-28","yr":"2011","d":"2023-06-04","v":44.4},{"f":"2023-05-28","yr":"2011","d":"2023-06-15","v":58.8},{"f":"2023-05-28","yr":"2011","d":"2023-06-25","v":66.4},{"f":"2023-05-28","yr":"2011","d":"2023-07-08","v":71},{"f":"2023-05-28","yr":"2011","d":"2023-07-20","v":72.9},{"f":"2023-05-28","yr":"2011","d":"2023-08-01","v":74},
  {"f":"2023-05-28","yr":"2013","d":"2023-05-28","v":36},{"f":"2023-05-28","yr":"2013","d":"2023-06-04","v":46.7},{"f":"2023-05-28","yr":"2013","d":"2023-06-15","v":62.2},{"f":"2023-05-28","yr":"2013","d":"2023-06-25","v":70},{"f":"2023-05-28","yr":"2013","d":"2023-07-08","v":74.1},{"f":"2023-05-28","yr":"2013","d":"2023-07-20","v":76},{"f":"2023-05-28","yr":"2013","d":"2023-08-01","v":77},

  {"f":"2023-06-04","yr":"1993","d":"2023-06-04","v":44.5},{"f":"2023-06-04","yr":"1993","d":"2023-06-11","v":49.1},{"f":"2023-06-04","yr":"1993","d":"2023-06-18","v":56.4},{"f":"2023-06-04","yr":"1993","d":"2023-06-25","v":63},{"f":"2023-06-04","yr":"1993","d":"2023-07-08","v":70.9},{"f":"2023-06-04","yr":"1993","d":"2023-07-20","v":75.2},{"f":"2023-06-04","yr":"1993","d":"2023-08-01","v":77.5},
  {"f":"2023-06-04","yr":"1995","d":"2023-06-04","v":44.5},{"f":"2023-06-04","yr":"1995","d":"2023-06-11","v":49},{"f":"2023-06-04","yr":"1995","d":"2023-06-18","v":56},{"f":"2023-06-04","yr":"1995","d":"2023-06-25","v":62.4},{"f":"2023-06-04","yr":"1995","d":"2023-07-08","v":70.1},{"f":"2023-06-04","yr":"1995","d":"2023-07-20","v":74.3},{"f":"2023-06-04","yr":"1995","d":"2023-08-01","v":76.5},
  {"f":"2023-06-04","yr":"1999","d":"2023-06-04","v":44.5},{"f":"2023-06-04","yr":"1999","d":"2023-06-11","v":50.7},{"f":"2023-06-04","yr":"1999","d":"2023-06-18","v":58.5},{"f":"2023-06-04","yr":"1999","d":"2023-06-25","v":64.3},{"f":"2023-06-04","yr":"1999","d":"2023-07-08","v":70.9},{"f":"2023-06-04","yr":"1999","d":"2023-07-20","v":74},{"f":"2023-06-04","yr":"1999","d":"2023-08-01","v":75.5},
  {"f":"2023-06-04","yr":"2003","d":"2023-06-04","v":44.5},{"f":"2023-06-04","yr":"2003","d":"2023-06-11","v":48.9},{"f":"2023-06-04","yr":"2003","d":"2023-06-18","v":55.8},{"f":"2023-06-04","yr":"2003","d":"2023-06-25","v":62.1},{"f":"2023-06-04","yr":"2003","d":"2023-07-08","v":69.7},{"f":"2023-06-04","yr":"2003","d":"2023-07-20","v":73.8},{"f":"2023-06-04","yr":"2003","d":"2023-08-01","v":76},
  {"f":"2023-06-04","yr":"2005","d":"2023-06-04","v":44.5},{"f":"2023-06-04","yr":"2005","d":"2023-06-11","v":50.4},{"f":"2023-06-04","yr":"2005","d":"2023-06-18","v":57.8},{"f":"2023-06-04","yr":"2005","d":"2023-06-25","v":63.4},{"f":"2023-06-04","yr":"2005","d":"2023-07-08","v":69.6},{"f":"2023-06-04","yr":"2005","d":"2023-07-20","v":72.5},{"f":"2023-06-04","yr":"2005","d":"2023-08-01","v":74},
  {"f":"2023-06-04","yr":"2010","d":"2023-06-04","v":44.5},{"f":"2023-06-04","yr":"2010","d":"2023-06-11","v":48.8},{"f":"2023-06-04","yr":"2010","d":"2023-06-18","v":55.5},{"f":"2023-06-04","yr":"2010","d":"2023-06-25","v":61.6},{"f":"2023-06-04","yr":"2010","d":"2023-07-08","v":68.9},{"f":"2023-06-04","yr":"2010","d":"2023-07-20","v":72.9},{"f":"2023-06-04","yr":"2010","d":"2023-08-01","v":75},
  {"f":"2023-06-04","yr":"2016","d":"2023-06-04","v":44.5},{"f":"2023-06-04","yr":"2016","d":"2023-06-11","v":48.7},{"f":"2023-06-04","yr":"2016","d":"2023-06-18","v":55.3},{"f":"2023-06-04","yr":"2016","d":"2023-06-25","v":61.3},{"f":"2023-06-04","yr":"2016","d":"2023-07-08","v":68.5},{"f":"2023-06-04","yr":"2016","d":"2023-07-20","v":72.4},{"f":"2023-06-04","yr":"2016","d":"2023-08-01","v":74.5},
  {"f":"2023-06-04","yr":"2012","d":"2023-06-04","v":44.5},{"f":"2023-06-04","yr":"2012","d":"2023-06-11","v":50.1},{"f":"2023-06-04","yr":"2012","d":"2023-06-18","v":57.1},{"f":"2023-06-04","yr":"2012","d":"2023-06-25","v":62.4},{"f":"2023-06-04","yr":"2012","d":"2023-07-08","v":68.3},{"f":"2023-06-04","yr":"2012","d":"2023-07-20","v":71.1},{"f":"2023-06-04","yr":"2012","d":"2023-08-01","v":72.5},
  {"f":"2023-06-04","yr":"2014","d":"2023-06-04","v":44.5},{"f":"2023-06-04","yr":"2014","d":"2023-06-11","v":50.2},{"f":"2023-06-04","yr":"2014","d":"2023-06-18","v":57.3},{"f":"2023-06-04","yr":"2014","d":"2023-06-25","v":62.7},{"f":"2023-06-04","yr":"2014","d":"2023-07-08","v":68.7},{"f":"2023-06-04","yr":"2014","d":"2023-07-20","v":71.6},{"f":"2023-06-04","yr":"2014","d":"2023-08-01","v":73},
  {"f":"2023-06-04","yr":"2011","d":"2023-06-04","v":44.5},{"f":"2023-06-04","yr":"2011","d":"2023-06-11","v":50},{"f":"2023-06-04","yr":"2011","d":"2023-06-18","v":56.9},{"f":"2023-06-04","yr":"2011","d":"2023-06-25","v":62.1},{"f":"2023-06-04","yr":"2011","d":"2023-07-08","v":67.9},{"f":"2023-06-04","yr":"2011","d":"2023-07-20","v":70.6},{"f":"2023-06-04","yr":"2011","d":"2023-08-01","v":72},
  {"f":"2023-06-04","yr":"2013","d":"2023-06-04","v":44.5},{"f":"2023-06-04","yr":"2013","d":"2023-06-11","v":51.6},{"f":"2023-06-04","yr":"2013","d":"2023-06-18","v":59.3},{"f":"2023-06-04","yr":"2013","d":"2023-06-25","v":64.6},{"f":"2023-06-04","yr":"2013","d":"2023-07-08","v":70.2},{"f":"2023-06-04","yr":"2013","d":"2023-07-20","v":72.8},{"f":"2023-06-04","yr":"2013","d":"2023-08-01","v":74},

  {"f":"2023-06-11","yr":"1993","d":"2023-06-11","v":51},{"f":"2023-06-11","yr":"1993","d":"2023-06-18","v":56.3},{"f":"2023-06-11","yr":"1993","d":"2023-06-25","v":61.3},{"f":"2023-06-11","yr":"1993","d":"2023-07-08","v":67.9},{"f":"2023-06-11","yr":"1993","d":"2023-07-20","v":71.2},{"f":"2023-06-11","yr":"1993","d":"2023-08-01","v":73},
  {"f":"2023-06-11","yr":"1995","d":"2023-06-11","v":51},{"f":"2023-06-11","yr":"1995","d":"2023-06-18","v":56.2},{"f":"2023-06-11","yr":"1995","d":"2023-06-25","v":61.1},{"f":"2023-06-11","yr":"1995","d":"2023-07-08","v":67.6},{"f":"2023-06-11","yr":"1995","d":"2023-07-20","v":70.8},{"f":"2023-06-11","yr":"1995","d":"2023-08-01","v":72.5},
  {"f":"2023-06-11","yr":"1999","d":"2023-06-11","v":51},{"f":"2023-06-11","yr":"1999","d":"2023-06-18","v":57.3},{"f":"2023-06-11","yr":"1999","d":"2023-06-25","v":62.6},{"f":"2023-06-11","yr":"1999","d":"2023-07-08","v":68.2},{"f":"2023-06-11","yr":"1999","d":"2023-07-20","v":70.7},{"f":"2023-06-11","yr":"1999","d":"2023-08-01","v":72},
  {"f":"2023-06-11","yr":"2003","d":"2023-06-11","v":51},{"f":"2023-06-11","yr":"2003","d":"2023-06-18","v":55.9},{"f":"2023-06-11","yr":"2003","d":"2023-06-25","v":60.6},{"f":"2023-06-11","yr":"2003","d":"2023-07-08","v":66.8},{"f":"2023-06-11","yr":"2003","d":"2023-07-20","v":69.9},{"f":"2023-06-11","yr":"2003","d":"2023-08-01","v":71.5},
  {"f":"2023-06-11","yr":"2005","d":"2023-06-11","v":51},{"f":"2023-06-11","yr":"2005","d":"2023-06-18","v":57},{"f":"2023-06-11","yr":"2005","d":"2023-06-25","v":62},{"f":"2023-06-11","yr":"2005","d":"2023-07-08","v":67.4},{"f":"2023-06-11","yr":"2005","d":"2023-07-20","v":69.8},{"f":"2023-06-11","yr":"2005","d":"2023-08-01","v":71},
  {"f":"2023-06-11","yr":"2010","d":"2023-06-11","v":51},{"f":"2023-06-11","yr":"2010","d":"2023-06-18","v":55.8},{"f":"2023-06-11","yr":"2010","d":"2023-06-25","v":60.5},{"f":"2023-06-11","yr":"2010","d":"2023-07-08","v":66.7},{"f":"2023-06-11","yr":"2010","d":"2023-07-20","v":69.8},{"f":"2023-06-11","yr":"2010","d":"2023-08-01","v":71.3},
  {"f":"2023-06-11","yr":"2016","d":"2023-06-11","v":51},{"f":"2023-06-11","yr":"2016","d":"2023-06-18","v":55.6},{"f":"2023-06-11","yr":"2016","d":"2023-06-25","v":59.9},{"f":"2023-06-11","yr":"2016","d":"2023-07-08","v":65.6},{"f":"2023-06-11","yr":"2016","d":"2023-07-20","v":68.5},{"f":"2023-06-11","yr":"2016","d":"2023-08-01","v":70},
  {"f":"2023-06-11","yr":"2012","d":"2023-06-11","v":51},{"f":"2023-06-11","yr":"2012","d":"2023-06-18","v":56.6},{"f":"2023-06-11","yr":"2012","d":"2023-06-25","v":61.3},{"f":"2023-06-11","yr":"2012","d":"2023-07-08","v":66.4},{"f":"2023-06-11","yr":"2012","d":"2023-07-20","v":68.7},{"f":"2023-06-11","yr":"2012","d":"2023-08-01","v":69.8},
  {"f":"2023-06-11","yr":"2014","d":"2023-06-11","v":51},{"f":"2023-06-11","yr":"2014","d":"2023-06-18","v":56.9},{"f":"2023-06-11","yr":"2014","d":"2023-06-25","v":61.7},{"f":"2023-06-11","yr":"2014","d":"2023-07-08","v":67},{"f":"2023-06-11","yr":"2014","d":"2023-07-20","v":69.3},{"f":"2023-06-11","yr":"2014","d":"2023-08-01","v":70.5},
  {"f":"2023-06-11","yr":"2011","d":"2023-06-11","v":51},{"f":"2023-06-11","yr":"2011","d":"2023-06-18","v":56.8},{"f":"2023-06-11","yr":"2011","d":"2023-06-25","v":61.6},{"f":"2023-06-11","yr":"2011","d":"2023-07-08","v":66.7},{"f":"2023-06-11","yr":"2011","d":"2023-07-20","v":69},{"f":"2023-06-11","yr":"2011","d":"2023-08-01","v":70.2}
 ]
},
"layer": [
 {"layer": [
   {"data": {"name": "mx"}, "mark": {"type": "rule", "color": "#f4f4f4", "strokeWidth": 0.6},
    "encoding": {"x": {"field": "d", "type": "temporal", "title": "Date", "scale": {"type": "utc", "domain": [1679859648000, 1691322336000]}}}},
   {"data": {"name": "my"}, "mark": {"type": "rule", "color": "#f4f4f4", "strokeWidth": 0.6},
    "encoding": {"y": {"field": "v", "type": "quantitative", "title": "Accumulated Flow (thousands acre-feet)", "scale": {"domain": [-5.09, 106.85], "nice": false, "zero": false}}}},
   {"data": {"name": "obs"}, "mark": {"type": "line", "color": "#808080", "strokeWidth": 2.6, "opacity": 0.85, "interpolate": "monotone"},
    "encoding": {
      "x": {"field": "d", "type": "temporal", "title": "Date", "scale": {"type": "utc", "domain": [1679859648000, 1691322336000]},
            "axis": {"values": [1680307200000, 1682899200000, 1685577600000, 1688169600000, 1690848000000], "labelExpr": "utcFormat(datum.value, '%b')", "grid": true, "titlePadding": 3, "labelPadding": 3}},
      "y": {"field": "v", "type": "quantitative", "title": "Accumulated Flow (thousands acre-feet)", "scale": {"domain": [-5.09, 106.85], "nice": false, "zero": false},
            "axis": {"values": [0, 25, 50, 75, 100], "grid": true, "titlePadding": 5}}
    }},
   {"data": {"name": "tr"}, "mark": {"type": "line", "strokeWidth": 0.8, "opacity": 0.45, "interpolate": "monotone"},
    "encoding": {
      "x": {"field": "d", "type": "temporal", "title": "Date", "scale": {"type": "utc", "domain": [1679859648000, 1691322336000]}},
      "y": {"field": "v", "type": "quantitative", "title": "Accumulated Flow (thousands acre-feet)", "scale": {"domain": [-5.09, 106.85], "nice": false, "zero": false}},
      "color": {"field": "yr", "type": "nominal", "legend": null,
        "scale": {"domain": ["1990","1992","1993","1994","1995","1996","1997","2020","1999","2001","2003","2005","2008","2010","2016","2018","2011","2012","2013","2014"],
                  "range": ["#f03b20","#b8e186","#e41a1c","#c2e699","#ef3b2c","#de2d26","#fb6a4a","#b2df8a","#fdae61","#fdbf6f","#ff7f00","#66bd63","#4daf4a","#a6d96a","#8c6bb1","#9e9ac8","#2c7fb8","#3288bd","#2b8cbe","#377eb8"]}},
      "detail": {"field": "f", "type": "nominal"}
    }}
 ]},
 {"layer": [
   {"data": {"name": "notes"}, "mark": {"type": "text", "align": "left", "baseline": "middle", "fontStyle": "italic", "fontSize": 9.5, "color": "#000000"},
    "encoding": {
      "x": {"datum": {"year": 2023, "month": 3, "date": 28, "hours": 16, "minutes": 20, "utc": true}, "type": "temporal"},
      "y": {"field": "r", "type": "quantitative", "axis": null, "scale": {"domain": [-0.83, 49.91], "reverse": true, "nice": false, "zero": false}},
      "text": {"field": "lab"}
    }},
   {"data": {"name": "notes"}, "mark": {"type": "text", "align": "left", "baseline": "middle", "fontStyle": "italic", "fontSize": 9.5, "color": "#000000"},
    "encoding": {
      "x": {"datum": {"year": 2023, "month": 4, "date": 15, "hours": 8, "minutes": 24, "utc": true}, "type": "temporal"},
      "y": {"field": "r", "type": "quantitative", "axis": null, "scale": {"domain": [-0.83, 49.91], "reverse": true, "nice": false, "zero": false}},
      "text": {"field": "txt"}
    }}
 ]}
],
"resolve": {"scale": {"y": "independent"}}
}
